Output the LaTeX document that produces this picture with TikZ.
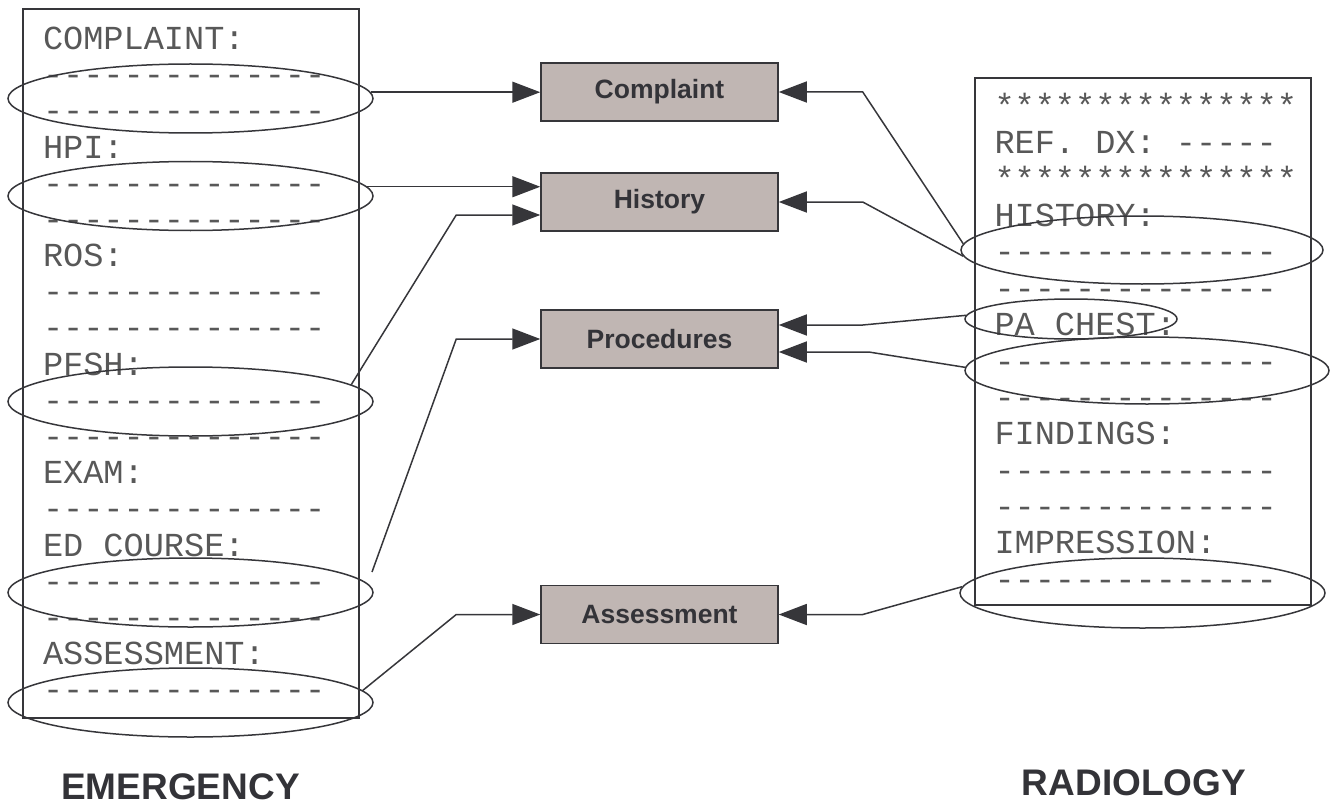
\documentclass[tikz,border=0pt]{standalone}
\usepackage{fontspec}
\setmainfont{Liberation Sans}
\setsansfont{Liberation Sans}
\setmonofont{Liberation Mono}
\usetikzlibrary{arrows.meta,shapes.geometric}
\definecolor{ln}{HTML}{36363A}
\definecolor{tx}{HTML}{585858}
\definecolor{bx}{HTML}{C0B6B3}
\definecolor{lb}{HTML}{333338}
\newcommand\dashln{--------------}
\newcommand\starln{***************}
\begin{document}
\begin{tikzpicture}[x=1pt,y=-1pt,
  mono/.style={anchor=base west,inner sep=0pt,outer sep=0pt,text=tx,
    font=\ttfamily\fontsize{33.6}{36}\selectfont},
  oval/.style 2 args={draw=ln,line width=1.5pt,shape=ellipse,inner sep=0pt,
    minimum width=#1,minimum height=#2},
  docbox/.style={draw=ln,line width=1.5pt,inner sep=0pt},
  cbox/.style={draw=ln,fill=bx,line width=1.5pt,minimum width=237pt,minimum height=58pt,
    inner sep=0pt,text=lb,font=\sffamily\bfseries\fontsize{26.5}{30}\selectfont},
  biglabel/.style={anchor=base,inner sep=0pt,text=lb,
    font=\sffamily\bfseries\fontsize{37}{40}\selectfont},
  arr/.style={draw=ln,line width=1.5pt,-{Triangle[length=28pt,width=21pt]}}]
\useasboundingbox (0,0) rectangle (1332,805);

% document frames
\node[docbox,minimum width=336pt,minimum height=709pt] (emdoc) at (191,363.5) {};
\node[docbox,minimum width=336pt,minimum height=527pt] (raddoc) at (1143,341.5) {};

% emergency text
\foreach \k/\t in {0/{COMPLAINT:},1/\dashln,2/\dashln,3/{HPI:},4/\dashln,5/\dashln,
  6/{ROS:},7/\dashln,8/\dashln,9/{PFSH:},10/\dashln,11/\dashln,12/{EXAM:},13/\dashln,
  14/{ED COURSE:},15/\dashln,16/\dashln,17/{ASSESSMENT:},18/\dashln}
  \node[mono] (em\k) at (43,49.5+36.18*\k) {\t};

% radiology text
\foreach \k/\t in {0/\starln,1/{REF. DX: -----},2/\starln,3/{HISTORY:},4/\dashln,5/\dashln,
  6/{PA CHEST:},7/\dashln,8/\dashln,9/{FINDINGS:},10/\dashln,11/\dashln,
  12/{IMPRESSION:},13/\dashln}
  \node[mono] (ra\k) at (994.5,117.5+36.36*\k) {\t};

% ovals
\node[oval={365pt}{69pt}] (e1) at (190.5,98.5) {};
\node[oval={365pt}{69pt}] (e2) at (190.5,196) {};
\node[oval={365pt}{69pt}] (e3) at (190.5,401.5) {};
\node[oval={365pt}{69pt}] (e4) at (190.5,592.5) {};
\node[oval={365pt}{69pt}] (e5) at (190.5,702.5) {};
\node[oval={362pt}{68pt}] (r1) at (1142,250) {};
\node[oval={212pt}{40pt}] (r2) at (1071,319) {};
\node[oval={364pt}{67pt}] (r3) at (1147,370.5) {};
\node[oval={365pt}{70pt}] (r4) at (1142.5,593) {};

% central boxes
\node[cbox] (comp) at (659.5,92) {Complaint};
\node[cbox] (hist) at (659.5,202) {History};
\node[cbox] (proc) at (659.5,339) {Procedures};
\node[cbox] (asmt) at (659.5,614.5) {Assessment};

% left connectors
\draw[arr] (e1.2) -- (e1.2 -| comp.west);
\draw[arr] (e2.3) -- (e2.3 -| hist.west);
\draw[arr] (e3.6) -- ([xshift=-84pt,yshift=-13pt]hist.west) -- ([yshift=-13pt]hist.west);
\coordinate (c4) at (372,572);
\draw[arr] (c4) -- ([xshift=-84pt]proc.west) -- (proc.west);
\draw[arr] (e5.4) -- ([xshift=-84pt]asmt.west) -- (asmt.west);

% right connectors
\draw[arr] (r1.178) -- ([xshift=84pt]comp.east) -- (comp.east);
\draw[arr] (r1.182) -- ([xshift=84pt]hist.east) -- (hist.east);
\draw[arr] (r2.178) -- ([xshift=84pt,yshift=14pt]proc.east) -- ([yshift=14pt]proc.east);
\draw[arr] (r3.179) -- ([xshift=90pt,yshift=-13pt]proc.east) -- ([yshift=-13pt]proc.east);
\draw[arr] (r4.178) -- ([xshift=84pt]asmt.east) -- (asmt.east);

% titles
\node[biglabel] (emt) at (180.5,799.5) {EMERGENCY};
\node[biglabel] (rat) at (1134,795) {RADIOLOGY};
\end{tikzpicture}
\end{document}
